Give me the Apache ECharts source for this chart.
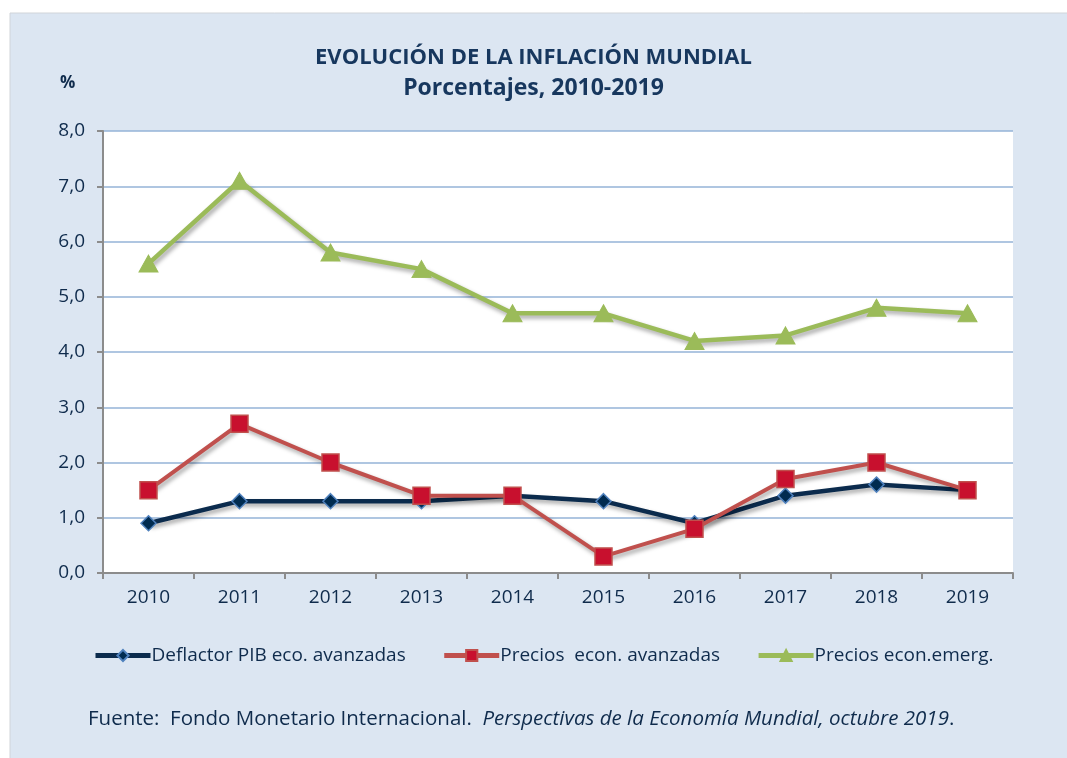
<!DOCTYPE html>
<html>
<head>
<meta charset="utf-8">
<script src="https://cdn.jsdelivr.net/npm/echarts@6/dist/echarts.min.js"></script>
<style>
html,body{margin:0;padding:0;background:#fff;}
#chart{width:1067px;height:758px;}
</style>
</head>
<body>
<div id="chart"></div>
<script>
const years = ['2010','2011','2012','2013','2014','2015','2016','2017','2018','2019'];
const deflactorPIB = [0.9, 1.3, 1.3, 1.3, 1.4, 1.3, 0.9, 1.4, 1.6, 1.5];
const preciosAvanzadas = [1.5, 2.7, 2.0, 1.4, 1.4, 0.3, 0.8, 1.7, 2.0, 1.5];
const preciosEmergentes = [5.6, 7.1, 5.8, 5.5, 4.7, 4.7, 4.2, 4.3, 4.8, 4.7];
const seriesNames = ['Deflactor PIB eco. avanzadas', 'Precios  econ. avanzadas', 'Precios econ.emerg.'];

const FONT = '"Open Sans", sans-serif';
const TXT = '#0f2b4c';
const chart = echarts.init(document.getElementById('chart'));
const shadow = {shadowColor:'rgba(0,0,0,0.35)', shadowBlur:4, shadowOffsetX:2, shadowOffsetY:3};

chart.setOption({
  animation:false,
  backgroundColor:'#ffffff',
  textStyle:{fontFamily:FONT},
  graphic:[
    {type:'rect', z:-10, shape:{x:10, y:13, width:1080, height:770}, style:{fill:'#dce6f2', stroke:'#d0d4d9', lineWidth:1}},
    {type:'text', left:'center', top:47, style:{text:'EVOLUCIÓN DE LA INFLACIÓN MUNDIAL', font:'bold 22px '+FONT, fill:'#17375e'}},
    {type:'text', left:'center', top:77, style:{text:'Porcentajes, 2010-2019', font:'bold 23px '+FONT, fill:'#17375e'}},
    {type:'text', left:60, top:75, style:{text:'%', font:'bold 17px '+FONT, fill:TXT}},
    {type:'text', left:88, top:709, style:{
      rich:{n:{font:'20.5px '+FONT, fill:TXT}, i:{font:'italic 20.5px '+FONT, fill:TXT}},
      text:'{n|Fuente:  Fondo Monetario Internacional.  }{i|Perspectivas de la Economía Mundial, octubre 2019}{n|.}'
    }}
  ],
  grid:{left:103, top:131, width:910, height:442, containLabel:false, show:true, backgroundColor:'#ffffff', borderWidth:0},
  legend:{
    bottom:88, left:88, itemWidth:55, itemHeight:14, itemGap:36,
    textStyle:{fontFamily:FONT, fontSize:19, color:TXT, padding:[0,0,0,-4]},
    data:[
      {name:seriesNames[0], lineStyle:{width:5}},
      {name:seriesNames[1], lineStyle:{width:5}},
      {name:seriesNames[2], lineStyle:{width:5}}
    ]
  },
  xAxis:{
    type:'category', data:years, boundaryGap:true,
    axisLine:{lineStyle:{color:'#8c8c8c', width:2}},
    axisTick:{show:true, length:6, lineStyle:{color:'#8c8c8c', width:2}},
    axisLabel:{fontSize:19, color:TXT, margin:15, fontFamily:FONT}
  },
  yAxis:{
    type:'value', min:0, max:8, interval:1,
    axisLine:{show:true, lineStyle:{color:'#8c8c8c', width:2}},
    axisTick:{show:true, length:6, lineStyle:{color:'#8c8c8c', width:2}},
    axisLabel:{fontSize:19, color:TXT, margin:18, fontFamily:FONT, formatter:v=>v.toFixed(1).replace('.',',')},
    splitLine:{lineStyle:{color:'#95b3d7', width:1.5}}
  },
  series:[
    {name:seriesNames[0], type:'line', data:deflactorPIB, symbol:'diamond', symbolSize:15,
     lineStyle:Object.assign({color:'#0b2b4d', width:4.5}, shadow),
     itemStyle:{color:'#002b50', borderColor:'#4f81bd', borderWidth:1.5}, z:3},
    {name:seriesNames[1], type:'line', data:preciosAvanzadas, symbol:'rect', symbolSize:17,
     lineStyle:Object.assign({color:'#c0504d', width:4}, shadow),
     itemStyle:{color:'#c8102e', borderColor:'#c0504d', borderWidth:1.5}, z:4},
    {name:seriesNames[2], type:'line', data:preciosEmergentes, symbol:'triangle', symbolSize:[19,17],
     lineStyle:Object.assign({color:'#9bbb59', width:4.5}, shadow),
     itemStyle:{color:'#9bbb59', borderColor:'#9bbb59', borderWidth:1}, z:5}
  ]
});
</script>
</body>
</html>
